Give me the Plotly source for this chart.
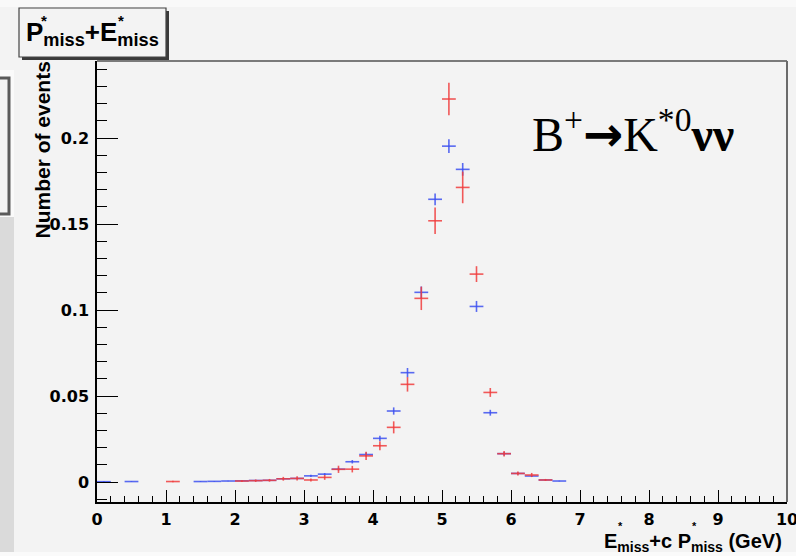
import plotly.graph_objects as go

# Bin centres (bin width 0.2 GeV) and normalised contents for the two samples
blue_x = [0.1, 0.5, 1.5, 1.7, 1.9, 2.1, 2.3, 2.5, 2.7, 2.9, 3.1, 3.3, 3.5, 3.7, 3.9,
          4.1, 4.3, 4.5, 4.7, 4.9, 5.1, 5.3, 5.5, 5.7, 5.9, 6.1, 6.3, 6.5, 6.7]
blue_y = [0.0002, 0.0003, 0.0003, 0.0004, 0.0006, 0.0007, 0.0009, 0.0010, 0.0019, 0.0021,
          0.0036, 0.0046, 0.0075, 0.0118, 0.0160, 0.0254, 0.0413, 0.0636, 0.1103, 0.1644,
          0.1953, 0.1818, 0.1021, 0.0403, 0.0165, 0.0050, 0.0035, 0.0012, 0.0006]
blue_err = [0.0002, 0.0002, 0.0002, 0.0002, 0.0002, 0.0002, 0.0003, 0.0003, 0.0004, 0.0004,
            0.0006, 0.0006, 0.0008, 0.0010, 0.0012, 0.0015, 0.0021, 0.0027, 0.0034, 0.0034,
            0.0040, 0.0037, 0.0032, 0.0017, 0.0010, 0.0006, 0.0005, 0.0003, 0.0002]

red_x = [1.1, 2.1, 2.3, 2.5, 2.7, 2.9, 3.1, 3.3, 3.5, 3.7, 3.9, 4.1, 4.3, 4.5, 4.7,
         4.9, 5.1, 5.3, 5.5, 5.7, 5.9, 6.1, 6.3, 6.5]
red_y = [0.0003, 0.0006, 0.0008, 0.0010, 0.0019, 0.0021, 0.0012, 0.0027, 0.0074, 0.0075,
         0.0152, 0.0211, 0.0318, 0.0568, 0.1068, 0.1519, 0.2227, 0.1713, 0.1209, 0.0521,
         0.0165, 0.0050, 0.0041, 0.0012]
red_err = [0.0004, 0.0005, 0.0007, 0.0008, 0.0011, 0.0012, 0.0009, 0.0014, 0.0021, 0.0019,
           0.0024, 0.0026, 0.0035, 0.0042, 0.0068, 0.0077, 0.0094, 0.0092, 0.0046, 0.0026,
           0.0016, 0.0012, 0.0012, 0.0006]

half_bin = 0.1

x_ticks = [0, 1, 2, 3, 4, 5, 6, 7, 8, 9, 10]
x_tick_text = ["0", "1", "2", "3", "4", "5", "6", "7", "8", "9", "10"]
y_ticks = [0, 0.05, 0.1, 0.15, 0.2]
y_tick_text = ["0", "0.05", "0.1", "0.15", "0.2"]

BLUE = "rgba(60,80,240,0.85)"
RED = "rgba(240,60,60,0.85)"
BG = "#f3f3f3"

W, H = 796, 556
L, R, T, B = 97, 9, 61, 54
PW, PH = W - L - R, H - T - B


def px(x):
    return (x - L) / PW


def py(y):
    return (H - B - y) / PH


def bold(labels):
    return [f"<b>{s}</b>" for s in labels]


def hist_trace(xs, ys, errs, color):
    return go.Scatter(
        x=xs, y=ys, mode="markers",
        marker=dict(size=1, color=color, opacity=0),
        error_x=dict(type="constant", value=half_bin, width=0, thickness=1.6, color=color),
        error_y=dict(type="data", array=errs, width=0, thickness=1.6, color=color),
        showlegend=False, hoverinfo="x+y",
    )


fig = go.Figure()
fig.add_trace(hist_trace(blue_x, blue_y, blue_err, BLUE))
fig.add_trace(hist_trace(red_x, red_y, red_err, RED))

tick_font = dict(family="DejaVu Sans", size=16, color="black")

fig.update_xaxes(
    range=[0, 10], tickvals=x_ticks, ticktext=bold(x_tick_text), ticks="inside", ticklen=12,
    tickwidth=1.2, tickcolor="black", showline=True, linecolor="black", linewidth=1.5,
    showgrid=False, zeroline=False, tickfont=tick_font, ticklabelstandoff=2,
    ticklabeloverflow="allow", automargin=False,
    minor=dict(dtick=0.2, tick0=0, ticks="inside", ticklen=6, tickwidth=1, tickcolor="black"),
)
fig.update_yaxes(
    range=[-0.0116, 0.2448], tickvals=y_ticks, ticktext=bold(y_tick_text), ticks="inside",
    ticklen=21, tickwidth=1.2, tickcolor="black", showline=True, linecolor="black",
    linewidth=1.5, showgrid=False, zeroline=False, tickfont=tick_font, ticklabelstandoff=3,
    ticklabeloverflow="allow", automargin=False,
    minor=dict(dtick=0.01, tick0=0, ticks="inside", ticklen=10, tickwidth=1, tickcolor="black"),
)

shapes = [
    # light strips along the top and bottom edges
    dict(type="rect", xref="paper", yref="paper", x0=px(-5), x1=px(W + 5), y0=py(0 - 5), y1=py(7),
         fillcolor="#f9f9f9", line=dict(width=0), layer="below"),
    dict(type="rect", xref="paper", yref="paper", x0=px(-5), x1=px(W + 5), y0=py(552), y1=py(H + 5),
         fillcolor="#fafafa", line=dict(width=0), layer="below"),
    # grey strip and framed panel on the left edge
    dict(type="rect", xref="paper", yref="paper", x0=px(-5), x1=px(14), y0=py(217), y1=py(552),
         fillcolor="#dadada", line=dict(width=0), layer="below"),
    dict(type="rect", xref="paper", yref="paper", x0=px(-5), x1=px(14), y0=py(70), y1=py(217),
         fillcolor="#fafafa", line=dict(width=0), layer="below"),
    dict(type="rect", xref="paper", yref="paper", x0=px(-8), x1=px(9), y0=py(78), y1=py(214),
         fillcolor=BG, line=dict(color="#5a5a5a", width=3), layer="below"),
    # frame top and right edges
    dict(type="line", xref="paper", yref="paper", x0=0, x1=1, y0=1, y1=1,
         line=dict(color="#7a7a7a", width=2)),
    dict(type="line", xref="paper", yref="paper", x0=1, x1=1, y0=0, y1=1,
         line=dict(color="#6a6a6a", width=2)),
    # title box with drop shadow
    dict(type="rect", xref="paper", yref="paper", x0=px(22), x1=px(169), y0=py(60), y1=py(11),
         fillcolor="#3a3a3a", line=dict(width=0)),
    dict(type="rect", xref="paper", yref="paper", x0=px(19), x1=px(166), y0=py(57), y1=py(8),
         fillcolor=BG, line=dict(color="#444444", width=1.2)),
]

title_font = dict(family="Liberation Sans", size=26, color="black", weight="bold")
label_font = dict(family="Liberation Sans", size=20, color="black", weight="bold")
y_label_font = dict(family="Liberation Sans", size=21, color="black", weight="bold")
star = dict(family="Liberation Sans", size=15, color="black", weight="bold")
small_star = dict(family="Liberation Sans", size=11, color="black", weight="bold")

annotations = [
    dict(text="P<sub>miss</sub>+E<sub>miss</sub>", x=px(24), y=py(34), xanchor="left",
         yanchor="middle", font=title_font),
    dict(text="*", x=px(44), y=py(20), xanchor="center", yanchor="middle", font=star),
    dict(text="*", x=px(121), y=py(20), xanchor="center", yanchor="middle", font=star),
    dict(text="Number of events", textangle=-90, x=px(42), y=py(60), xanchor="center",
         yanchor="top", font=y_label_font),
    dict(text="E<sub>miss</sub>+c P<sub>miss</sub> (GeV)", x=px(784), y=py(542),
         xanchor="right", yanchor="middle", font=label_font),
    dict(text="*", x=px(620), y=py(526), xanchor="center", yanchor="middle", font=small_star),
    dict(text="*", x=px(694), y=py(526), xanchor="center", yanchor="middle", font=small_star),
    dict(text="B<sup>+</sup><span style='font-family:DejaVu Sans;font-weight:bold'>→</span>"
              "K<sup>*0</sup><b>νν</b>",
         x=px(530), y=py(131), xanchor="left", yanchor="middle",
         font=dict(family="Liberation Serif", size=48, color="black")),
]
for a in annotations:
    a.update(xref="paper", yref="paper", showarrow=False)

fig.update_layout(
    width=W, height=H, autosize=False,
    margin=dict(l=L, r=R, t=T, b=B, pad=0, autoexpand=False),
    paper_bgcolor=BG, plot_bgcolor=BG,
    shapes=shapes, annotations=annotations,
)

fig.write_html("out.html", config={"displayModeBar": False})
